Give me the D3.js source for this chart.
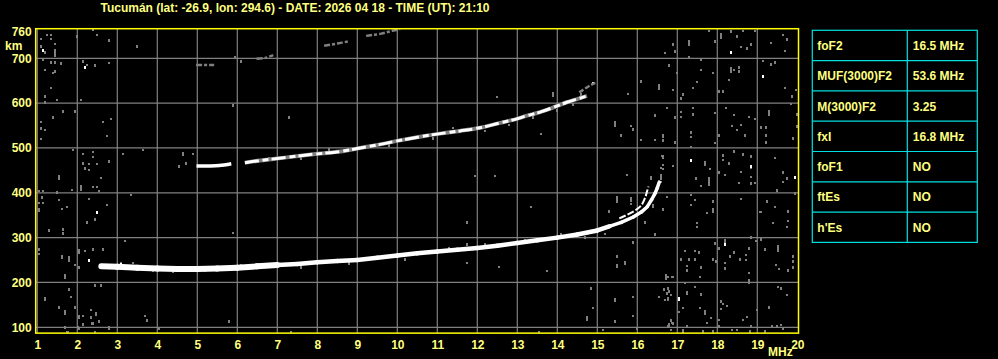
<!DOCTYPE html>
<html>
<head>
<meta charset="utf-8">
<script src="https://cdn.jsdelivr.net/npm/d3@7"></script>
<style>
  html, body { margin: 0; padding: 0; background: #000; }
  svg { display: block; }
  text { font-family: "Liberation Sans", Arial, sans-serif; font-weight: bold; fill: #ffff80; }
</style>
</head>
<body>
<div id="container"></div>
<script>
const width = 998;
const height = 359;

// ---- data ----
const title = "Tucumán (lat: -26.9, lon: 294.6) - DATE: 2026 04 18 - TIME (UT): 21:10";
const freqTicks = d3.range(1, 21);               // MHz
const heightTicks = [100, 200, 300, 400, 500, 600, 700, 760];   // km
const gridHeights = [100, 200, 300, 400, 500, 600, 700];

const paramNames = ["foF2", "MUF(3000)F2", "M(3000)F2", "fxI", "foF1", "ftEs", "h'Es"];
const paramValues = ["16.5 MHz", "53.6 MHz", "3.25", "16.8 MHz", "NO", "NO", "NO"];

// first hop F trace (ordinary), [MHz, km]
const oTrace = [[2.6,236],[3.0,235],[3.5,233],[4.0,231],[4.5,230],[5.0,230],[5.5,231],[6.0,233],
  [6.5,236],[7.0,239],[7.5,241],[8.0,245],[8.5,248],[9.0,250],[9.5,255],[10.0,260],[10.5,265],
  [11.0,269],[11.5,273],[12.0,277],[12.5,282],[13.0,288],[13.5,294],[14.0,300],[14.5,307],
  [15.0,316],[15.3,325],[15.6,334],[15.9,346],[16.1,357],[16.25,369],[16.36,385],[16.44,398],
  [16.5,411],[16.55,424]];
// extraordinary branch near the cusp
const xTrace = [[15.55,343],[15.9,358],[16.1,372],[16.2,390],[16.25,405],[16.28,414]];
// second hop F trace
const hop2a = [[4.98,460],[5.3,460],[5.55,461],[5.85,465]];
const hop2b = [[6.19,467],[6.57,472],[7.24,479],[7.9,486],[8.57,492],[9.07,500],[9.57,508],
  [10.07,517],[10.57,525],[11.07,532],[11.57,538],[12.07,545],[12.57,556],[12.99,565],
  [13.24,572],[13.57,580],[13.86,589],[14.24,602],[14.49,609],[14.74,616]];
const hop2c = [[14.55,624],[14.83,640],[14.95,645]];
// third hop fragments
const hop3 = [
  [[4.97,685],[5.42,685]],
  [[6.48,699],[6.7,701],[6.9,707]],
  [[8.17,728],[8.5,733],[8.8,738]],
  [[9.22,750],[9.6,755],[9.9,762],[10.07,765]]
];

// isolated weak echoes, [MHz, km]
const grayDots = [
  [1.23,753],[1.34,753],[1.09,743],[1.34,743],[1.09,727],[1.19,713],[1.44,733],[1.98,749],[2.39,763],
  [2.49,753],[2.78,740],[1.13,698],[1.34,691],[1.44,691],[1.59,689],[1.19,675],[1.39,667],[1.44,671],
  [2.13,693],[2.24,686],[2.44,684],[2.78,690],[1.34,634],[1.19,615],[2.08,608],[1.19,602],[1.49,608],
  [1.64,582],[1.94,582],[1.39,568],[1.09,559],[1.09,544],[1.19,541],[1.09,520],[1.89,496],[2.64,559],
  [2.84,565],[2.74,527],[2.13,487],[2.39,480],[2.39,492],[2.13,466],[2.28,465],[2.49,465],[2.19,455],
  [2.3,451],[2.78,470],[2.59,434],[1.53,438],[1.53,435],[1.53,432],[1.86,407],[2.08,414],[2.08,408],
  [2.4,414],[2.49,414],[2.55,405],[1.05,405],[1.13,405],[1.5,401],[1.12,390],[1.04,378],[1.13,378],
  [1.55,384],[1.62,364],[1.73,369],[2.39,414],[2.29,386],[2.73,373],[3.34,396],[2.43,341],[2.24,334],
  [1.28,316],[1.64,319],[1.64,310],[1.04,274],[1.04,264],[1.79,256],[1.79,249],[2.2,271],[2.4,274],
  [2.64,274],[2.05,234],[1.95,239],[1.79,186],[1.84,168],[1.18,165],[1.18,162],[2.43,194],[2.59,194],
  [1.54,145],[1.95,145],[2.15,125],[2.34,122],[2.53,113],[2.37,109],[2.14,107],[2.01,101],[1.76,90],
  [2.8,100],[2.45,90],[1.78,185],[2.33,139],[2.39,109],[2.55,113],[3.69,126],[3.73,116],[2.79,98],
  [2.04,98],[4.03,98],[5.78,113],[7.33,90],[1.74,90],[3.13,487],[3.63,496],[3.19,293],[5.88,311],
  [4.53,459],[4.72,466],[4.88,487],[3.49,727],[5.94,703],[6.09,693],[5.88,595],[7.29,568],
  [11.95,438],[12.44,438],[13.33,369],[11.73,334],[11.73,285],[11.73,244],[12.53,235],[13.73,226],
  [13.59,532],[12.48,614],[15.77,621],[16.09,649],[15.84,550],[15.9,542],[15.6,528],[16.1,518],
  [16.44,518],[16.63,518],[16.44,573],[16.94,568],[16.63,528],[16.94,514],[16.61,483],[16.63,463],
  [15.3,360],[15.83,388],[15.83,383],[16.43,306],[15.88,289],[15.48,258],[15.69,246],[15.69,242],
  [16.86,213],[16.63,479],[16.63,454],[15.73,440],[15.83,385],[15.83,376],[16.73,391],[16.63,363],
  [15.3,359],[16.19,334],[16.44,307],[15.88,291],[15.48,260],[14.83,187],[14.88,144],[15.15,94],
  [15.44,163],[15.44,160],[15.44,113],[15.88,168],[15.88,126],[15.98,98],[13.55,90],[16.67,185],
  [16.73,176],[16.55,168],[16.7,162],[16.83,116],[16.88,109],[16.83,94],[17.13,94],[17.04,135],
  [17.13,144],[17.19,199],
  [17.78,762],[18.33,760],[18.5,749],[18.63,762],[18.94,762],[19.65,753],[19.73,742],[19.33,734],
  [19.69,717],[16.9,731],[16.7,712],[16.94,716],[17.3,738],[17.3,731],[17.94,738],[18.59,725],
  [18.75,722],[18.83,731],[19.15,695],[19.44,691],[19.34,687],[19.69,634],[19.86,615],[19.83,598],
  [19.97,630],[18.54,680],[18.54,671],[18.42,675],[17.9,667],[17.58,675],[17.48,647],[17.4,634],
  [17.15,620],[17.08,611],[16.9,630],[16.8,684],[17.0,667],[17.3,702],[17.6,697],[18.15,626],
  [18.03,626],[18.28,652],[18.42,574],[18.36,550],[18.58,552],[18.5,540],[18.69,528],[18.8,570],
  [18.94,565],[19.1,546],[19.22,546],[19.22,528],[19.22,513],[19.9,522],[19.98,548],[19.98,575],
  [16.73,590],[16.94,568],[17.1,581],[17.1,570],[17.4,589],[17.4,575],[17.94,579],[18.22,589],
  [18.03,528],[17.94,511],[17.33,525],[17.33,535],[17.34,503],[16.94,513],[16.65,525],[16.65,516],
  [16.65,483],[17.81,453],[18.15,484],[18.15,473],[18.28,466],[18.42,493],[18.63,486],[18.83,481],
  [18.85,436],[18.6,447],[18.19,440],[18.05,446],[17.78,432],[17.47,432],[19.44,478],[19.65,446],
  [19.73,432],[16.9,460],[16.6,456],[16.6,440],
  [16.6,424],[17.58,415],[18.55,422],[18.83,421],[18.94,422],[19.65,424],[19.48,406],[19.94,399],
  [16.73,391],[17.33,395],[17.44,385],[17.33,373],[17.9,381],[16.65,363],[17.73,356],[18.6,386],
  [19.06,358],[19.1,358],[19.23,381],[19.44,369],[19.77,359],[19.4,333],[19.77,338],[19.73,324],
  [17.5,333],[17.5,324],[18.83,301],[18.97,293],[19.08,296],[17.94,287],[18.05,276],[18.42,267],
  [18.32,258],[18.72,262],[18.8,276],[18.72,250],[18.57,252],[18.19,244],[17.9,252],[17.97,247],
  [17.19,271],[17.44,271],[17.55,267],[17.1,252],[17.3,252],[17.44,252],[17.23,237],[17.23,227],
  [17.6,234],[17.56,213],[16.77,212],[16.9,213],[18.19,232],[18.8,222],[19.2,274],[19.46,239],
  [19.55,230],[19.77,227],[19.9,258],[19.9,247],[19.9,234],[17.44,191],[16.77,187],[16.8,180],
  [17.25,176],[16.83,173],[16.77,165],[16.77,162],[17.59,174],[18.09,158],[18.15,153],[18.23,148],
  [18.09,141],[17.13,144],[17.03,135],[17.56,144],[17.84,121],[19.28,145],[19.52,190],[19.58,187],
  [19.73,173],[18.98,139],[18.73,123],[18.63,117],[18.48,95],[18.36,95],[18.05,117],[18.05,104],
  [17.73,110],[17.65,91],[17.15,91],[16.86,110],[16.77,104],[17.23,104],[17.9,91],[18.85,104],
  [19.2,91],[19.37,102],[19.48,102],[19.6,106],[19.65,98],[18.82,91],
  // fringe around the traces
  [3.1,243],[3.4,244],[3.9,226],[4.4,225],[5.2,226],[6.1,240],[7.6,234],[8.8,243],[10.2,252],
  [11.3,276],[12.2,285],[13.2,294],[14.1,307],[14.7,301],[15.2,309],[6.8,478],[7.6,477],[8.3,497],
  [9.8,506],[10.9,522],[11.4,545],[12.2,538],[12.8,552],[13.4,568],[14.0,584],[14.4,597],[14.6,620]
];
// vertical streaks, [MHz, km from, km to]
const grayStreaks = [
  [1.44,704,720],[18.09,742,757],[18.33,667,680],[19.29,572,585],[17.69,460,472],[18.83,452,463],
  [17.8,415,428],[17.9,355,367],[19.52,268,284],[18.19,284,298],[18.8,196,208],[17.7,128,138],
  [16.53,629,642],[15.44,547,560],[15.48,381,392],[15.48,232,242],[16.72,206,218],[14.75,114,126],
  [16.78,100,110],[1.04,357,367],[1.62,252,262],[2.03,264,274],[1.7,208,218],[1.7,128,138],
  [1.7,96,104],[2.09,408,418],[4.63,482,492],[16.33,428,438],[16.58,428,438],[15.48,378,388],
  [16.38,365,374],[2.05,119,128],[2.47,126,134],[13.88,614,624],[17.23,171,181]
];
// isolated strong echoes
const whiteDots = [[1.13,718],[2.19,680],[18.33,712],[19.13,660],[17.34,473],[18.83,458],[19.94,434],
  [18.19,284],[17.03,162],[17.03,165],[2.49,356],[2.3,250],[2.87,238],[3.1,239],[14.9,644]];

// ---- scales ----
const x = d3.scaleLinear().domain([1, 20]).range([37.3, 797.3]);
const y = d3.scaleLinear().domain([100, 700]).range([327.3, 58.3]);
const fMin = 0.96, fMax = 20.03, hMin = 87, hMax = 766;

const svg = d3.select("#container").append("svg")
  .attr("width", width).attr("height", height);
svg.append("rect").attr("width", width).attr("height", height).attr("fill", "#000");

// ---- title ----
svg.append("text")
  .attr("x", 295).attr("y", 12)
  .attr("text-anchor", "middle")
  .style("font-size", "12px")
  .text(title);

// ---- grid ----
const grid = svg.append("g");
grid.selectAll(".vg").data(freqTicks.slice(0, -1)).enter().append("line")
  .attr("x1", d => x(d)).attr("x2", d => x(d))
  .attr("y1", y(hMax)).attr("y2", y(hMin))
  .attr("stroke", "#808080").attr("stroke-width", 1.2);
grid.selectAll(".hg").data(gridHeights).enter().append("line")
  .attr("x1", x(fMin)).attr("x2", x(fMax))
  .attr("y1", d => y(d)).attr("y2", d => y(d))
  .attr("stroke", "#808080").attr("stroke-width", 1.2);

// ---- echoes ----
const echo = svg.append("g").attr("shape-rendering", "crispEdges");
echo.selectAll(".gd").data(grayDots).enter().append("rect")
  .attr("x", d => x(d[0]) - 1).attr("y", d => y(d[1]) - 1)
  .attr("width", 2).attr("height", 2.4).attr("fill", "#808080");
echo.selectAll(".gs").data(grayStreaks).enter().append("rect")
  .attr("x", d => x(d[0]) - 1).attr("y", d => y(d[2]))
  .attr("width", 2).attr("height", d => y(d[1]) - y(d[2])).attr("fill", "#808080");
echo.selectAll(".wd").data(whiteDots).enter().append("rect")
  .attr("x", d => x(d[0]) - 1).attr("y", d => y(d[1]) - 1.5)
  .attr("width", 2).attr("height", 3).attr("fill", "#fff");

const line = d3.line()
  .x(d => x(d[0]))
  .y(d => y(d[1]))
  .curve(d3.curveCatmullRom);

// second and third hops
svg.append("path").attr("d", line(hop2b)).attr("fill", "none")
  .attr("stroke", "#808080").attr("stroke-width", 4);
svg.append("path").attr("d", line(hop2b)).attr("fill", "none")
  .attr("stroke", "#fff").attr("stroke-width", 3).attr("stroke-dasharray", "14,4,6,3");
svg.append("path").attr("d", line(hop2a)).attr("fill", "none")
  .attr("stroke", "#fff").attr("stroke-width", 3.5);
svg.append("path").attr("d", line(hop2c)).attr("fill", "none")
  .attr("stroke", "#808080").attr("stroke-width", 2.5).attr("stroke-dasharray", "5,2");
svg.selectAll(".hop3").data(hop3).enter().append("path")
  .attr("d", d => line(d)).attr("fill", "none")
  .attr("stroke", "#808080").attr("stroke-width", 2.5).attr("stroke-dasharray", "6,2,3,2");

// first hop, drawn segment by segment so that it thins toward the cusp
const segs = d3.pairs(oTrace);
svg.selectAll(".oseg").data(segs).enter().append("line")
  .attr("x1", d => x(d[0][0])).attr("y1", d => y(d[0][1]))
  .attr("x2", d => x(d[1][0])).attr("y2", d => y(d[1][1]))
  .attr("stroke", "#fff").attr("stroke-linecap", "round")
  .attr("stroke-width", d => d[0][0] < 7 ? 6 : d[0][0] < 15.3 ? 4.5 : 3.5);
svg.append("path").attr("d", line(xTrace)).attr("fill", "none")
  .attr("stroke", "#fff").attr("stroke-width", 2).attr("stroke-dasharray", "7,2");

// ---- frame ----
svg.append("rect")
  .attr("x", x(fMin)).attr("y", y(hMax))
  .attr("width", x(fMax) - x(fMin)).attr("height", y(hMin) - y(hMax))
  .attr("fill", "none").attr("stroke", "#ffff00").attr("stroke-width", 1.5);

// ---- axes ----
const xAxis = d3.axisBottom(x).tickValues(freqTicks).tickSize(0).tickPadding(7)
  .tickFormat(d3.format("d"));
const gx = svg.append("g").attr("transform", "translate(0," + y(hMin) + ")").call(xAxis);
gx.select(".domain").remove();
gx.selectAll("text").style("font-size", "12px").attr("fill", "#ffff80")
  .style("font-family", "'Liberation Sans', Arial, sans-serif");

const yAxis = d3.axisLeft(y).tickValues(heightTicks).tickSize(0).tickPadding(4)
  .tickFormat(d3.format("d"));
const gy = svg.append("g").attr("transform", "translate(" + x(fMin) + ",0)").call(yAxis);
gy.select(".domain").remove();
gy.selectAll("text").style("font-size", "12px").attr("fill", "#ffff80")
  .style("font-family", "'Liberation Sans', Arial, sans-serif");

svg.append("text").attr("x", 5).attr("y", 50).style("font-size", "12px").text("km");
svg.append("text").attr("x", 768).attr("y", 356).style("font-size", "12px").text("MHz");

// ---- parameter table ----
const tableX = [812.3, 907.3, 977.3];
const rowH = 30.3;
const tableTop = 30.3;
const table = svg.append("g");
table.append("rect")
  .attr("x", tableX[0]).attr("y", tableTop)
  .attr("width", tableX[2] - tableX[0]).attr("height", rowH * paramNames.length)
  .attr("fill", "none").attr("stroke", "#00e0e0").attr("stroke-width", 1.2);
table.append("line")
  .attr("x1", tableX[1]).attr("x2", tableX[1])
  .attr("y1", tableTop).attr("y2", tableTop + rowH * paramNames.length)
  .attr("stroke", "#00e0e0").attr("stroke-width", 1.2);
table.selectAll(".rl").data(paramNames.slice(1)).enter().append("line")
  .attr("x1", tableX[0]).attr("x2", tableX[2])
  .attr("y1", (d, i) => tableTop + rowH * (i + 1)).attr("y2", (d, i) => tableTop + rowH * (i + 1))
  .attr("stroke", "#00e0e0").attr("stroke-width", 1.2);
table.selectAll(".pn").data(paramNames).enter().append("text")
  .attr("x", tableX[0] + 5).attr("y", (d, i) => tableTop + rowH * i + rowH / 2 + 4.5)
  .style("font-size", "12px").text(d => d);
table.selectAll(".pv").data(paramValues).enter().append("text")
  .attr("x", tableX[1] + 5.5).attr("y", (d, i) => tableTop + rowH * i + rowH / 2 + 4.5)
  .style("font-size", "12px").text(d => d);
</script>
</body>
</html>
